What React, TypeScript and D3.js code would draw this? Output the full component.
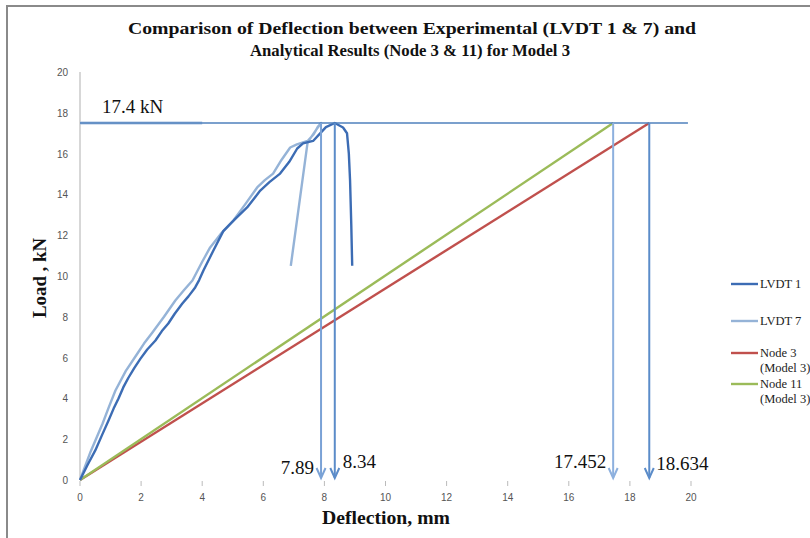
import { useEffect, useRef } from "react";
import * as d3 from "d3";

// experimental curves (deflection mm, load kN)
const lvdt1Deflection = [0, 0.25, 0.5, 0.72, 0.93, 1.1, 1.26, 1.42, 1.58, 1.78, 1.98, 2.2, 2.47, 2.68, 2.89, 3.1, 3.35, 3.55, 3.77, 3.9, 4.04, 4.35, 4.69, 5.05, 5.47, 5.7, 5.9, 6.2, 6.55, 6.85, 7.11, 7.3, 7.63, 7.86, 8.05, 8.34, 8.61, 8.74, 8.8, 8.84, 8.88, 8.91];
const lvdt1Load = [0, 0.75, 1.45, 2.2, 2.9, 3.5, 4.0, 4.55, 5.0, 5.5, 5.95, 6.4, 6.84, 7.3, 7.67, 8.15, 8.65, 9.0, 9.44, 9.8, 10.27, 11.2, 12.2, 12.75, 13.36, 13.8, 14.19, 14.6, 15.02, 15.6, 16.25, 16.5, 16.62, 16.99, 17.3, 17.5, 17.28, 17.0, 16.0, 14.68, 12.5, 10.5];

const lvdt7Deflection = [0, 0.35, 0.74, 0.95, 1.16, 1.5, 1.88, 2.1, 2.37, 2.75, 3.12, 3.4, 3.68, 4.0, 4.26, 4.6, 5.02, 5.4, 5.8, 6.05, 6.32, 6.6, 6.88, 7.1, 7.45, 7.65, 7.78, 7.89, 7.7, 7.45, 6.9];
const lvdt7Load = [0, 1.4, 2.77, 3.6, 4.39, 5.35, 6.2, 6.7, 7.23, 8.0, 8.8, 9.3, 9.78, 10.7, 11.4, 12.05, 12.72, 13.5, 14.34, 14.7, 15.02, 15.7, 16.3, 16.45, 16.62, 16.95, 17.3, 17.5, 17.1, 16.55, 10.5];

// analytical (linear) results
const node3Deflection = [0, 18.634];
const node3Load = [0, 17.5];
const node11Deflection = [0, 17.452];
const node11Load = [0, 17.5];

const peakLine = 17.5;
const peakLabel = "17.4 kN";
const arrowValues = [7.89, 8.34, 17.452, 18.634];
const arrowLabels = ["7.89", "8.34", "17.452", "18.634"];

const xTicks = [0, 2, 4, 6, 8, 10, 12, 14, 16, 18, 20];
const yTicks = [0, 2, 4, 6, 8, 10, 12, 14, 16, 18, 20];

const legendNames = [["LVDT 1"], ["LVDT 7"], ["Node 3", "(Model 3)"], ["Node 11", "(Model 3)"]];
const seriesColors = ["#3c6cb4", "#95b3d7", "#c0504d", "#9bbb59"];

const App = () => {
  const svgRef = useRef<SVGSVGElement | null>(null);

  useEffect(() => {
    const W = 810;
    const H = 538;
    const svg = d3.select(svgRef.current).attr("width", W).attr("height", H);
    svg.selectAll("*").remove();

    const x = d3.scaleLinear().domain([0, 20]).range([80, 691]);
    const y = d3.scaleLinear().domain([0, 20]).range([480, 72]);

    svg.append("rect").attr("width", W).attr("height", H).attr("fill", "#fff");
    // chart border (only top/left visible)
    svg.append("path").attr("d", "M7,540 L7,6 L812,6").attr("fill", "none").attr("stroke", "#8a8a8a").attr("stroke-width", 2);

    const serif = "'Liberation Serif', 'Times New Roman', serif";
    const sans = "'Liberation Sans', Arial, sans-serif";

    // title
    const title = svg.append("g").attr("font-family", serif).attr("font-weight", "bold").attr("fill", "#111");
    title.append("text").attr("x", 412).attr("y", 34).attr("text-anchor", "middle").attr("font-size", 17)
      .attr("textLength", 568).attr("lengthAdjust", "spacingAndGlyphs")
      .text("Comparison of Deflection between Experimental (LVDT 1 & 7) and");
    title.append("text").attr("x", 410).attr("y", 56).attr("text-anchor", "middle").attr("font-size", 17)
      .attr("textLength", 320).attr("lengthAdjust", "spacingAndGlyphs")
      .text("Analytical  Results (Node 3 & 11) for Model 3");

    // y axis line
    svg.append("line").attr("x1", x(0)).attr("x2", x(0)).attr("y1", y(20)).attr("y2", y(0)).attr("stroke", "#bcbcbc").attr("stroke-width", 1.2);

    // x ticks
    svg.selectAll(".xtick").data(xTicks).enter().append("line").classed("xtick", true)
      .attr("x1", (d) => x(d)).attr("x2", (d) => x(d)).attr("y1", 481).attr("y2", 486)
      .attr("stroke", "#bbb").attr("stroke-width", 1);

    svg.selectAll(".xlab").data(xTicks).enter().append("text").classed("xlab", true)
      .attr("x", (d) => x(d)).attr("y", 501).attr("text-anchor", "middle")
      .attr("font-family", sans).attr("font-size", 10).attr("fill", "#555").text((d) => d);

    svg.selectAll(".ylab").data(yTicks).enter().append("text").classed("ylab", true)
      .attr("x", 68).attr("y", (d) => y(d) + 4).attr("text-anchor", "end")
      .attr("font-family", sans).attr("font-size", 10).attr("fill", "#555").text((d) => d);

    // axis titles
    svg.append("text").attr("x", 386).attr("y", 524).attr("text-anchor", "middle")
      .attr("font-family", serif).attr("font-weight", "bold").attr("font-size", 19).attr("fill", "#111")
      .attr("textLength", 128).attr("lengthAdjust", "spacingAndGlyphs")
      .text("Deflection, mm");
    svg.append("text").attr("transform", "translate(46,278) rotate(-90)").attr("text-anchor", "middle")
      .attr("font-family", serif).attr("font-weight", "bold").attr("font-size", 18).attr("fill", "#111")
      .attr("textLength", 80).attr("lengthAdjust", "spacingAndGlyphs")
      .text("Load , kN");

    const line = d3.line<[number, number]>().x((d) => x(d[0])).y((d) => y(d[1]));
    const pairs = (xs: number[], ys: number[]) => xs.map((v, i) => [v, ys[i]] as [number, number]);

    const series = [
      pairs(lvdt1Deflection, lvdt1Load),
      pairs(lvdt7Deflection, lvdt7Load),
      pairs(node3Deflection, node3Load),
      pairs(node11Deflection, node11Load),
    ];

    // draw analytical first, then experimental
    [2, 3, 1, 0].forEach((i) => {
      svg.append("path").datum(series[i]).attr("d", line).attr("fill", "none")
        .attr("stroke", seriesColors[i]).attr("stroke-width", 2.4).attr("stroke-linejoin", "round");
    });

    // peak load line
    svg.append("line").attr("x1", x(0)).attr("x2", x(4)).attr("y1", y(peakLine)).attr("y2", y(peakLine))
      .attr("stroke", "#a9c2e2").attr("stroke-width", 3);
    svg.append("line").attr("x1", x(0)).attr("x2", x(19.9)).attr("y1", y(peakLine)).attr("y2", y(peakLine))
      .attr("stroke", "#4f81bd").attr("stroke-width", 1.5);
    svg.append("text").attr("x", 102).attr("y", 113).attr("font-family", serif).attr("font-size", 19)
      .attr("fill", "#111").text(peakLabel);

    // arrows
    const arrowColors = ["#7aa2d6", "#5b8cc9", "#8db0de", "#5b8cc9"];
    arrowValues.forEach((v, i) => {
      const ax = x(v);
      const top = y(peakLine);
      const tip = 478;
      const g = svg.append("g").attr("stroke", arrowColors[i]).attr("stroke-width", 2).attr("fill", "none");
      g.append("line").attr("x1", ax).attr("x2", ax).attr("y1", top).attr("y2", tip);
      g.append("path").attr("d", `M${ax - 4.5},${tip - 10} L${ax},${tip} L${ax + 4.5},${tip - 10}`)
        .attr("stroke-linejoin", "miter");
    });
    const labelPos = [
      { dx: -7, y: 474, anchor: "end" },
      { dx: 8, y: 468, anchor: "start" },
      { dx: -7, y: 468, anchor: "end" },
      { dx: 7, y: 470, anchor: "start" },
    ];
    arrowLabels.forEach((t, i) => {
      svg.append("text").attr("x", x(arrowValues[i]) + labelPos[i].dx).attr("y", labelPos[i].y)
        .attr("text-anchor", labelPos[i].anchor).attr("font-family", serif).attr("font-size", 19)
        .attr("fill", "#111").text(t);
    });

    // legend (the right edge cuts the second lines, as in the original)
    const legendY = [284, 321, 353, 384];
    legendNames.forEach((names, i) => {
      svg.append("line").attr("x1", 731).attr("x2", 758).attr("y1", legendY[i]).attr("y2", legendY[i])
        .attr("stroke", seriesColors[i]).attr("stroke-width", 2.4);
      names.forEach((n, j) => {
        svg.append("text").attr("x", 760).attr("y", legendY[i] + 4 + j * 14.5)
          .attr("font-family", serif).attr("font-size", 12.5).attr("fill", "#222").text(n);
      });
    });
  }, []);

  return <svg ref={svgRef} style={{ position: "absolute", left: 0, top: 0 }} />;
};

export default App;
